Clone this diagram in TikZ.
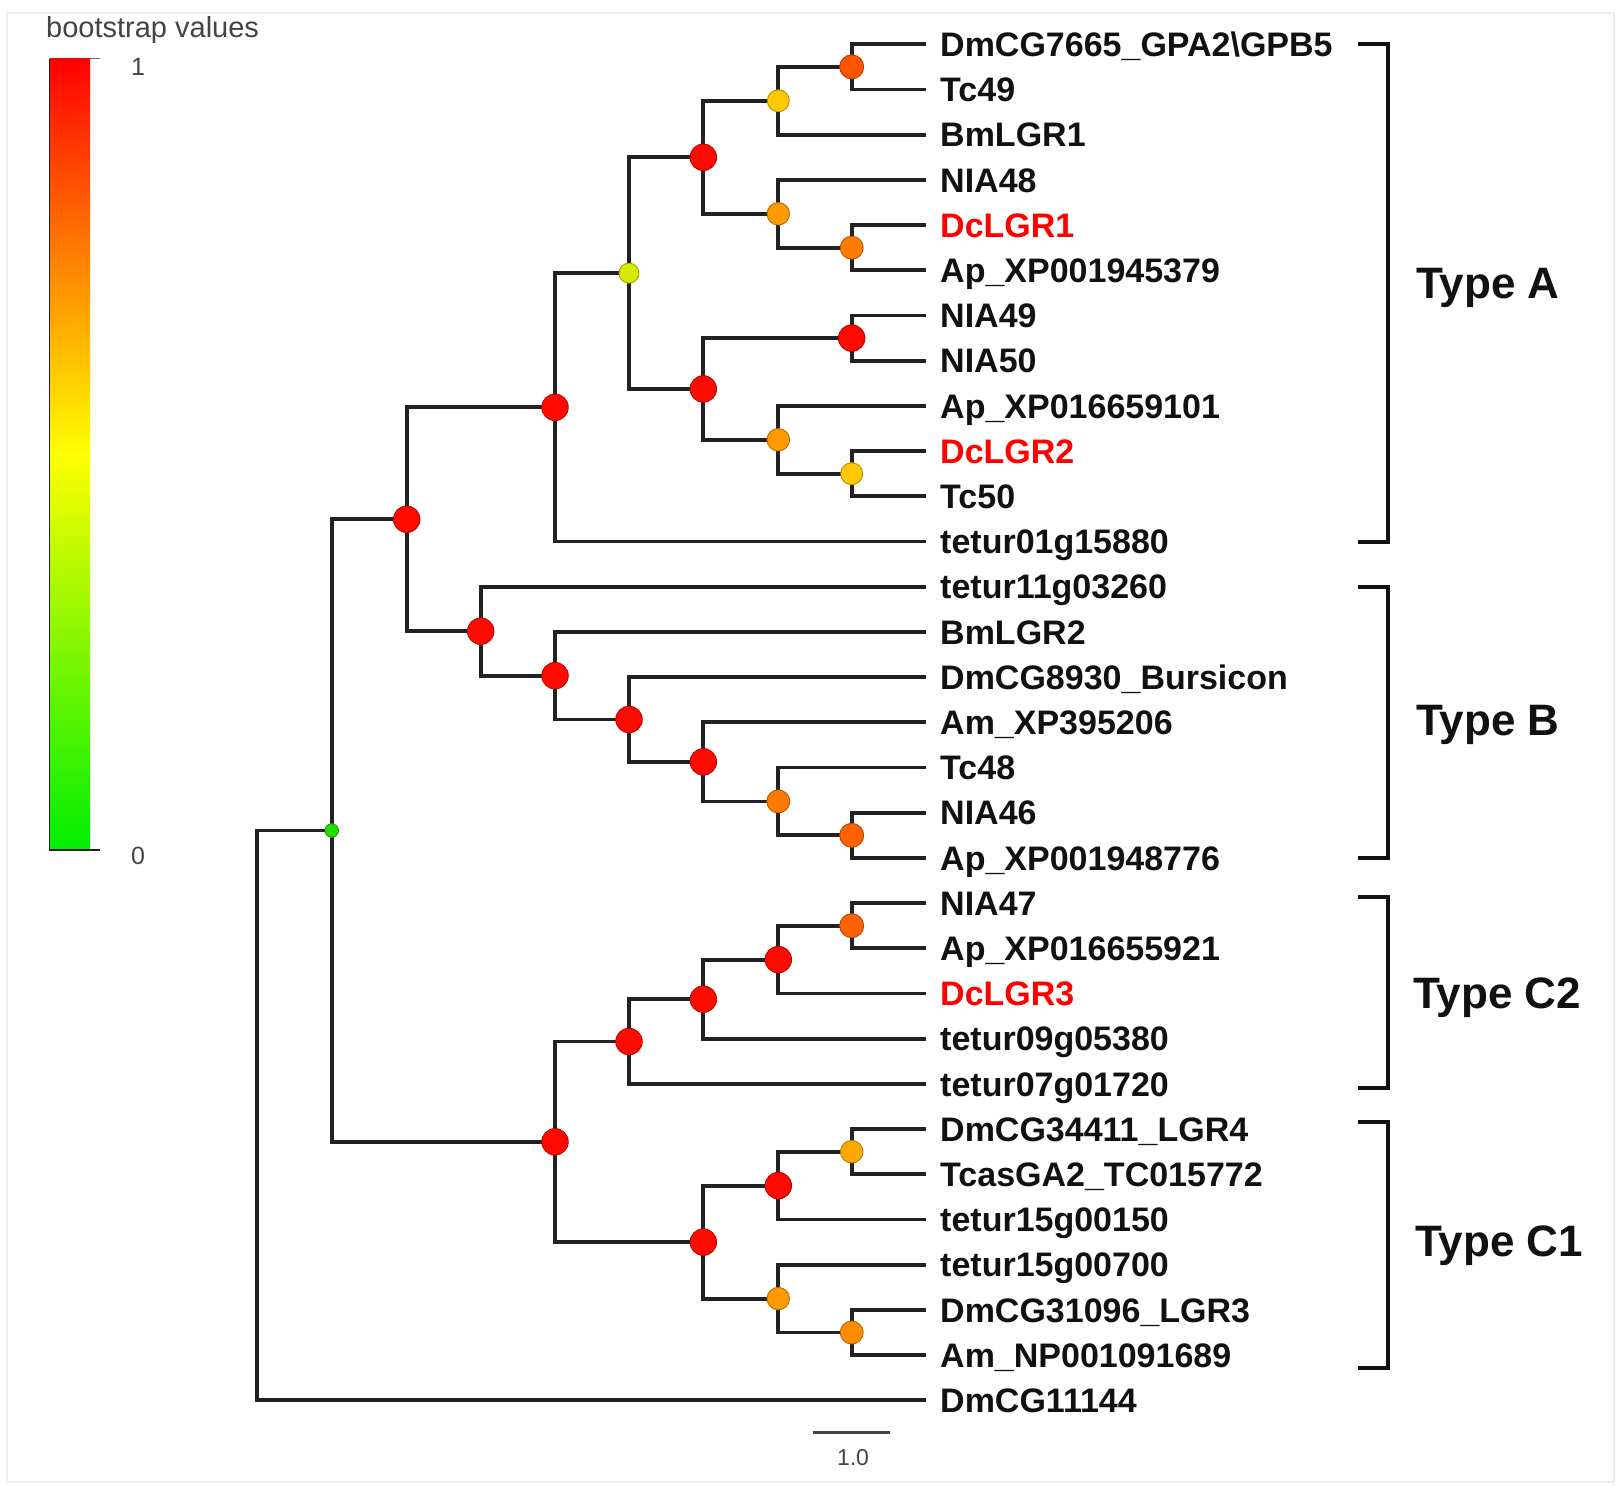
\documentclass[tikz,border=0pt]{standalone}
\usepackage{fontspec}
\setmainfont{Liberation Sans}
\usetikzlibrary{backgrounds}
\definecolor{edgec}{HTML}{222222}
\definecolor{labc}{HTML}{111111}
\definecolor{greyc}{HTML}{444444}
\definecolor{redlab}{HTML}{FF0000}
\definecolor{cR}{HTML}{FF0A00}
\definecolor{cOR}{HTML}{FF5500}
\definecolor{cOa}{HTML}{FF7A00}
\definecolor{cOb}{HTML}{FF9900}
\definecolor{cOc}{HTML}{FF6200}
\definecolor{cOd}{HTML}{FF8C00}
\definecolor{cGd}{HTML}{FFC800}
\definecolor{cGo}{HTML}{FFA800}
\definecolor{cYG}{HTML}{D6EA00}
\definecolor{cGr}{HTML}{22DD00}
\definecolor{barR}{HTML}{FF0000}
\definecolor{barY}{HTML}{FFFF00}
\definecolor{barG}{HTML}{00EE00}
\definecolor{framec}{HTML}{EEEEEE}
\begin{document}
\begin{tikzpicture}[x=1pt,y=-1pt,
  declare function={ly(\i)=44.3+45.2*\i;},
  br/.style={line width=3.8pt, draw=edgec, line join=miter},
  brk/.style={line width=4.2pt, draw=labc, line join=miter},
  bsnode/.style 2 args={circle, fill=#1, draw=#1!72!black, line width=0.9pt, minimum size=#2, inner sep=0pt},
  vR/.style={bsnode={cR}{26.5pt}},
  vOR/.style={bsnode={cOR}{24pt}},
  vOa/.style={bsnode={cOa}{23pt}},
  vOb/.style={bsnode={cOb}{22.5pt}},
  vOc/.style={bsnode={cOc}{24pt}},
  vOd/.style={bsnode={cOd}{23pt}},
  vGd/.style={bsnode={cGd}{22pt}},
  vGo/.style={bsnode={cGo}{22.5pt}},
  vYG/.style={bsnode={cYG}{20pt}},
  vGr/.style={bsnode={cGr}{13.5pt}},
  leaf/.style={anchor=west, inner xsep=14pt, inner ysep=0pt, text height=24.3pt, text depth=0pt,
    font=\fontsize{34}{40}\selectfont\bfseries, text=labc},
  redleaf/.style={leaf, text=redlab},
  typelab/.style={anchor=west, inner sep=0pt, text height=31.5pt, text depth=0pt,
    font=\fontsize{44}{50}\selectfont\bfseries, text=labc},
  small/.style={inner sep=0pt, font=\fontsize{25}{30}\selectfont, text=greyc},
]
\useasboundingbox (0,0) rectangle (1622,1491);

% ---------- leaf end points and labels ----------
\foreach \i in {0,...,30} { \coordinate (e\i) at (926,{ly(\i)}); }
\node[leaf] (t0) at (e0) {DmCG7665\_GPA2\textbackslash GPB5};
\node[leaf] (t1) at (e1) {Tc49};
\node[leaf] (t2) at (e2) {BmLGR1};
\node[leaf] (t3) at (e3) {NIA48};
\node[redleaf] (t4) at (e4) {DcLGR1};
\node[leaf] (t5) at (e5) {Ap\_XP001945379};
\node[leaf] (t6) at (e6) {NIA49};
\node[leaf] (t7) at (e7) {NIA50};
\node[leaf] (t8) at (e8) {Ap\_XP016659101};
\node[redleaf] (t9) at (e9) {DcLGR2};
\node[leaf] (t10) at (e10) {Tc50};
\node[leaf] (t11) at (e11) {tetur01g15880};
\node[leaf] (t12) at (e12) {tetur11g03260};
\node[leaf] (t13) at (e13) {BmLGR2};
\node[leaf] (t14) at (e14) {DmCG8930\_Bursicon};
\node[leaf] (t15) at (e15) {Am\_XP395206};
\node[leaf] (t16) at (e16) {Tc48};
\node[leaf] (t17) at (e17) {NIA46};
\node[leaf] (t18) at (e18) {Ap\_XP001948776};
\node[leaf] (t19) at (e19) {NIA47};
\node[leaf] (t20) at (e20) {Ap\_XP016655921};
\node[redleaf] (t21) at (e21) {DcLGR3};
\node[leaf] (t22) at (e22) {tetur09g05380};
\node[leaf] (t23) at (e23) {tetur07g01720};
\node[leaf] (t24) at (e24) {DmCG34411\_LGR4};
\node[leaf] (t25) at (e25) {TcasGA2\_TC015772};
\node[leaf] (t26) at (e26) {tetur15g00150};
\node[leaf] (t27) at (e27) {tetur15g00700};
\node[leaf] (t28) at (e28) {DmCG31096\_LGR3};
\node[leaf] (t29) at (e29) {Am\_NP001091689};
\node[leaf] (t30) at (e30) {DmCG11144};

% ---------- internal nodes (bootstrap circles) ----------
\node[vOR] (n1) at (851.7,{ly(0.5)}) {};
\node[vGd] (n2) at (778.3,{ly(1.25)}) {};
\node[vOa] (n3) at (851.7,{ly(4.5)}) {};
\node[vOb] (n4) at (778.3,{ly(3.75)}) {};
\node[vR]  (n5) at (703.3,{ly(2.5)}) {};
\node[vR]  (n6) at (851.7,{ly(6.5)}) {};
\node[vGd] (n7) at (851.7,{ly(9.5)}) {};
\node[vOb] (n8) at (778.3,{ly(8.75)}) {};
\node[vR]  (n9) at (703.3,{ly(7.625)}) {};
\node[vYG] (n10) at (629,{ly(5.0625)}) {};
\node[vR]  (n11) at (555,{ly(8.03125)}) {};
\node[vOc] (n12) at (851.7,{ly(17.5)}) {};
\node[vOa] (n13) at (778.3,{ly(16.75)}) {};
\node[vR]  (n14) at (703.3,{ly(15.875)}) {};
\node[vR]  (n15) at (629,{ly(14.9375)}) {};
\node[vR]  (n16) at (555,{ly(13.96875)}) {};
\node[vR]  (n17) at (480.7,{ly(12.984375)}) {};
\node[vR]  (n18) at (406.7,{ly(10.5078)}) {};
\node[vOc] (n19) at (851.7,{ly(19.5)}) {};
\node[vR]  (n20) at (778.3,{ly(20.25)}) {};
\node[vR]  (n21) at (703.3,{ly(21.125)}) {};
\node[vR]  (n22) at (629,{ly(22.0625)}) {};
\node[vGo] (n23) at (851.7,{ly(24.5)}) {};
\node[vR]  (n24) at (778.3,{ly(25.25)}) {};
\node[vOd] (n25) at (851.7,{ly(28.5)}) {};
\node[vOb] (n26) at (778.3,{ly(27.75)}) {};
\node[vR]  (n27) at (703.3,{ly(26.5)}) {};
\node[vR]  (n28) at (555,{ly(24.28125)}) {};
\node[vGr] (n29) at (331.7,{ly(17.3945)}) {};
\coordinate (r) at (256.7,{ly(23.697)});

% ---------- background and branches ----------
\begin{pgfonlayer}{background}
\fill[white] (0,0) rectangle (1622,1491);
\draw[framec, line width=1.5pt] (7,13) rectangle (1614,1482);
\draw[br] (n1.center) |- (e0);  \draw[br] (n1.center) |- (e1);
\draw[br] (n2.center) |- (n1.center); \draw[br] (n2.center) |- (e2);
\draw[br] (n3.center) |- (e4);  \draw[br] (n3.center) |- (e5);
\draw[br] (n4.center) |- (e3);  \draw[br] (n4.center) |- (n3.center);
\draw[br] (n5.center) |- (n2.center); \draw[br] (n5.center) |- (n4.center);
\draw[br] (n6.center) |- (e6);  \draw[br] (n6.center) |- (e7);
\draw[br] (n7.center) |- (e9);  \draw[br] (n7.center) |- (e10);
\draw[br] (n8.center) |- (e8);  \draw[br] (n8.center) |- (n7.center);
\draw[br] (n9.center) |- (n6.center); \draw[br] (n9.center) |- (n8.center);
\draw[br] (n10.center) |- (n5.center); \draw[br] (n10.center) |- (n9.center);
\draw[br] (n11.center) |- (n10.center); \draw[br] (n11.center) |- (e11);
\draw[br] (n12.center) |- (e17); \draw[br] (n12.center) |- (e18);
\draw[br] (n13.center) |- (e16); \draw[br] (n13.center) |- (n12.center);
\draw[br] (n14.center) |- (e15); \draw[br] (n14.center) |- (n13.center);
\draw[br] (n15.center) |- (e14); \draw[br] (n15.center) |- (n14.center);
\draw[br] (n16.center) |- (e13); \draw[br] (n16.center) |- (n15.center);
\draw[br] (n17.center) |- (e12); \draw[br] (n17.center) |- (n16.center);
\draw[br] (n18.center) |- (n11.center); \draw[br] (n18.center) |- (n17.center);
\draw[br] (n19.center) |- (e19); \draw[br] (n19.center) |- (e20);
\draw[br] (n20.center) |- (n19.center); \draw[br] (n20.center) |- (e21);
\draw[br] (n21.center) |- (n20.center); \draw[br] (n21.center) |- (e22);
\draw[br] (n22.center) |- (n21.center); \draw[br] (n22.center) |- (e23);
\draw[br] (n23.center) |- (e24); \draw[br] (n23.center) |- (e25);
\draw[br] (n24.center) |- (n23.center); \draw[br] (n24.center) |- (e26);
\draw[br] (n25.center) |- (e28); \draw[br] (n25.center) |- (e29);
\draw[br] (n26.center) |- (e27); \draw[br] (n26.center) |- (n25.center);
\draw[br] (n27.center) |- (n24.center); \draw[br] (n27.center) |- (n26.center);
\draw[br] (n28.center) |- (n22.center); \draw[br] (n28.center) |- (n27.center);
\draw[br] (n29.center) |- (n18.center); \draw[br] (n29.center) |- (n28.center);
\draw[br] (r) |- (n29.center); \draw[br] (r) |- (e30);
\end{pgfonlayer}

% ---------- clade brackets ----------
\coordinate (aT) at (1358,44);   \coordinate (aB) at (1358,541.7);
\coordinate (bT) at (1358,586.7); \coordinate (bB) at (1358,858);
\coordinate (cT) at (1358,897);  \coordinate (cB) at (1358,1088);
\coordinate (dT) at (1358,1122); \coordinate (dB) at (1358,1368);
\draw[brk] (aT) -- ++(30,0) |- (aB);
\draw[brk] (bT) -- ++(30,0) |- (bB);
\draw[brk] (cT) -- ++(30,0) |- (cB);
\draw[brk] (dT) -- ++(30,0) |- (dB);
\node[typelab] (lA) at (1416,283) {Type A};
\node[typelab] (lB) at (1416,720) {Type B};
\node[typelab] (lC2) at (1413,993) {Type C2};
\node[typelab] (lC1) at (1415,1241) {Type C1};

% ---------- colour bar ----------
\shade[top color=barR, bottom color=barG, middle color=barY] (49.5,58.5) rectangle (90,850);
\draw[edgec, line width=1.6pt] (49.5,58.5) -- (49.5,850) -- (100,850);
\draw[greyc!80, line width=1.4pt] (90,58.5) -- (100,58.5);
\node[small] (one) at (138,67) {1};
\node[small] (zero) at (138,856) {0};
\node[inner sep=0pt, anchor=base west, font=\fontsize{29}{33}\selectfont, text=greyc] (bv) at (46,37) {bootstrap values};

% ---------- scale bar ----------
\coordinate (sL) at (813,1432.7); \coordinate (sR) at (890,1432.7);
\draw[greyc, line width=2.5pt] (sL) -- (sR);
\node[inner sep=0pt, font=\fontsize{23}{27}\selectfont, text=greyc] (sc) at (853,1458) {1.0};
\end{tikzpicture}
\end{document}
